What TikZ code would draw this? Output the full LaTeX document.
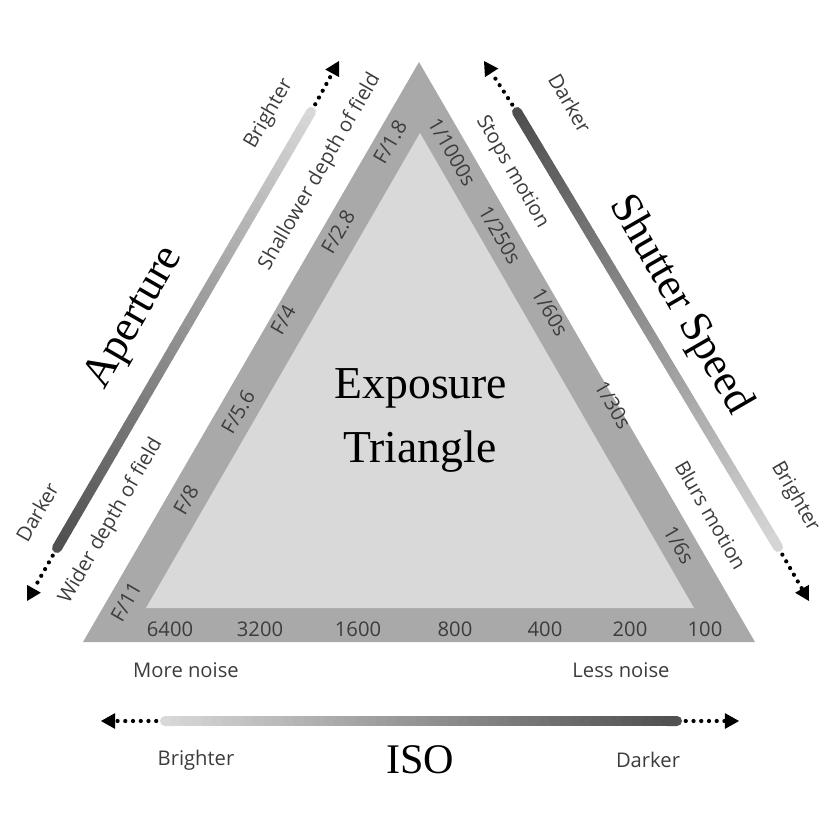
\documentclass[tikz,border=0pt]{standalone}
\usepackage{fontspec}
\setmainfont{Open Sans}
\newfontfamily\titlefont{Liberation Serif}
\usetikzlibrary{arrows.meta,calc}
\definecolor{bandgray}{HTML}{A9A9A9}
\definecolor{innergray}{HTML}{D9D9D9}
\definecolor{barlight}{HTML}{D8D8D8}
\definecolor{bardark}{HTML}{4E4E4E}
\definecolor{textgray}{HTML}{3C3C3C}
\begin{document}
\begin{tikzpicture}[x=0.02cm, y=-0.02cm, line cap=round, line join=round,
		lbl/.style={text=textgray, font=\fontsize{11.5}{13}\selectfont, inner sep=0pt},
		big/.style={text=black, font=\titlefont\fontsize{25}{30}\selectfont, inner sep=0pt},
		dotline/.style={line width=2.4pt, dash pattern=on 0pt off 4.4pt, shorten <=5pt,
			-{Triangle[length=8pt,width=9pt,line width=0pt]}},
		barseg/.style={line width=5.7pt, line cap=round}]
	
	\useasboundingbox (0,0) rectangle (836,836);
	
	% Triangles
	\fill[bandgray] (419,62) -- (755,642) -- (83,642) -- cycle;
	\fill[innergray] (420,133) -- (694,608) -- (146,608) -- cycle;
	
	% Bar end points and arrow tips
	\coordinate (apTop) at (311,112);
	\coordinate (apBot) at (57,548);
	\coordinate (apTopTip) at (339,61);
	\coordinate (apBotTip) at (27,601);
	\coordinate (shTop) at (517,112);
	\coordinate (shBot) at (778,547);
	\coordinate (shTopTip) at (484,61);
	\coordinate (shBotTip) at (809,601);
	\coordinate (isoL) at (165,721);
	\coordinate (isoR) at (677,721);
	\coordinate (isoLTip) at (101,721);
	\coordinate (isoRTip) at (739,721);
	
	% Gradient bars
	\foreach \i in {0,...,49}{
		\pgfmathsetmacro\p{100-2*\i}
		\pgfmathsetmacro\q{2*\i}
		\draw[barseg, barlight!\p!bardark] ($(apTop)!{\i/50}!(apBot)$) -- ($(apTop)!{(\i+1)/50}!(apBot)$);
		\draw[barseg, barlight!\q!bardark] ($(shTop)!{\i/50}!(shBot)$) -- ($(shTop)!{(\i+1)/50}!(shBot)$);
		\draw[barseg, barlight!\p!bardark] ($(isoL)!{\i/50}!(isoR)$) -- ($(isoL)!{(\i+1)/50}!(isoR)$);
	}
	
	% Dotted arrows
	\draw[dotline] (apTop) -- (apTopTip);
	\draw[dotline] (apBot) -- (apBotTip);
	\draw[dotline] (shTop) -- (shTopTip);
	\draw[dotline] (shBot) -- (shBotTip);
	\draw[dotline] (isoL) -- (isoLTip);
	\draw[dotline] (isoR) -- (isoRTip);
	
	% Title
	\node[big, anchor=base, font=\titlefont\fontsize{26}{30}\selectfont] (expo) at (421,398) {Exposure};
	\node[big, anchor=base, font=\titlefont\fontsize{26}{30}\selectfont] (tri) at (420,462) {Triangle};
	
	% Aperture side
	\node[lbl, rotate=60] (f18) at (390,142) {F/1.8};
	\node[lbl, rotate=60] (f28) at (338,232) {F/2.8};
	\node[lbl, rotate=60] (f4) at (283,320) {F/4};
	\node[lbl, rotate=60] (f56) at (238,412) {F/5.6};
	\node[lbl, rotate=60] (f8) at (186,500) {F/8};
	\node[lbl, rotate=60] (f11) at (126,602) {F/11};
	\node[lbl, rotate=60] (shallow) at (320,172) {Shallower depth of field};
	\node[lbl, rotate=60] (wider) at (111,521) {Wider depth of field};
	\node[lbl, rotate=60] (apBright) at (269,114) {Brighter};
	\node[lbl, rotate=60] (apDark) at (37,512) {Darker};
	\node[big, rotate=60] (aperture) at (135,318) {Aperture};
	
	% Shutter side
	\node[lbl, rotate=-60] (s1000) at (452,152) {1/1000s};
	\node[lbl, rotate=-60] (s250) at (500,235) {1/250s};
	\node[lbl, rotate=-60] (s60) at (550,312) {1/60s};
	\node[lbl, rotate=-60] (s30) at (613,405) {1/30s};
	\node[lbl, rotate=-60] (s6) at (679,545) {1/6s};
	\node[lbl, rotate=-60] (stops) at (512,172) {Stops motion};
	\node[lbl, rotate=-60] (blurs) at (711,515) {Blurs motion};
	\node[lbl, rotate=-60] (shDark) at (570,103) {Darker};
	\node[lbl, rotate=-60] (shBright) at (795,497) {Brighter};
	\node[big, rotate=-60] (shutter) at (680,305) {Shutter Speed};
	
	% ISO side
	\foreach \v/\x in {6400/170,3200/260,1600/358,800/455,400/545,200/630,100/705}
	\node[lbl] (iso\v) at (\x,629) {\v};
	\node[lbl] (more) at (186,670) {More noise};
	\node[lbl] (less) at (621,670) {Less noise};
	\node[lbl] (isoBright) at (196,760) {Brighter};
	\node[lbl] (isoDark) at (648,760) {Darker};
	\node[big, font=\titlefont\fontsize{24}{28}\selectfont] (iso) at (420,760) {ISO};
	
\end{tikzpicture}
\end{document}
